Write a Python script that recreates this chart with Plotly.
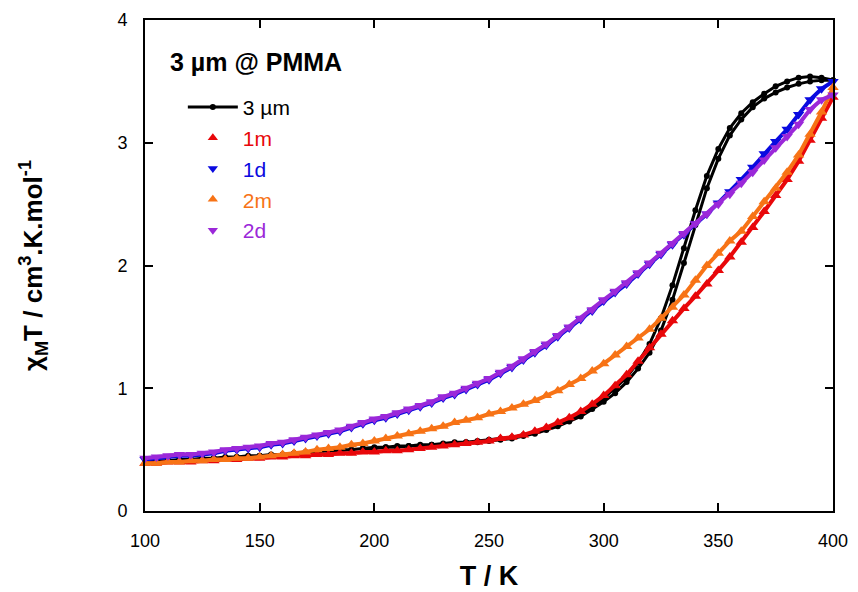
import plotly.graph_objects as go

T = [100, 105, 110, 115, 120, 125, 130, 135, 140, 145, 150, 155, 160, 165, 170, 175,
     180, 185, 190, 195, 200, 205, 210, 215, 220, 225, 230, 235, 240, 245, 250, 255,
     260, 265, 270, 275, 280, 285, 290, 295, 300, 305, 310, 315, 320, 325, 330, 335,
     340, 345, 350, 355, 360, 365, 370, 375, 380, 385, 390, 395, 400]

black_heat = [0.40, 0.40, 0.41, 0.41, 0.42, 0.42, 0.43, 0.43, 0.44, 0.44, 0.45, 0.45, 0.46, 0.47, 0.47, 0.48,
              0.49, 0.49, 0.50, 0.51, 0.51, 0.52, 0.52, 0.53, 0.53, 0.54, 0.54, 0.55, 0.56, 0.56, 0.57, 0.58,
              0.59, 0.61, 0.63, 0.66, 0.69, 0.73, 0.77, 0.83, 0.89, 0.96, 1.05, 1.16, 1.29, 1.47, 1.72, 2.02,
              2.33, 2.63, 2.87, 3.06, 3.19, 3.29, 3.36, 3.41, 3.45, 3.48, 3.50, 3.51, 3.51]

black_cool = [0.40, 0.41, 0.41, 0.42, 0.42, 0.43, 0.43, 0.44, 0.44, 0.45, 0.45, 0.46, 0.46, 0.47, 0.48, 0.48,
              0.49, 0.50, 0.50, 0.51, 0.52, 0.52, 0.53, 0.53, 0.54, 0.54, 0.55, 0.56, 0.56, 0.57, 0.58, 0.59,
              0.60, 0.62, 0.64, 0.67, 0.70, 0.74, 0.79, 0.85, 0.92, 1.00, 1.09, 1.21, 1.36, 1.57, 1.84, 2.14,
              2.45, 2.73, 2.95, 3.12, 3.24, 3.33, 3.40, 3.46, 3.50, 3.53, 3.54, 3.53, 3.51]

red_1m = [0.39, 0.39, 0.40, 0.40, 0.40, 0.41, 0.41, 0.42, 0.42, 0.43, 0.43, 0.44, 0.44, 0.45, 0.45, 0.46,
          0.46, 0.47, 0.47, 0.48, 0.48, 0.49, 0.49, 0.50, 0.51, 0.52, 0.53, 0.54, 0.55, 0.56, 0.57, 0.59,
          0.60, 0.62, 0.65, 0.68, 0.72, 0.76, 0.81, 0.87, 0.94, 1.02, 1.11, 1.22, 1.33, 1.44, 1.55, 1.65,
          1.75, 1.85, 1.96, 2.07, 2.19, 2.31, 2.44, 2.57, 2.70, 2.85, 3.02, 3.20, 3.37]

blue_1d = [0.42, 0.43, 0.44, 0.45, 0.45, 0.46, 0.47, 0.49, 0.50, 0.51, 0.52, 0.54, 0.55, 0.57, 0.59, 0.61,
           0.63, 0.65, 0.68, 0.71, 0.74, 0.76, 0.79, 0.82, 0.85, 0.88, 0.92, 0.95, 0.99, 1.03, 1.07, 1.12,
           1.17, 1.23, 1.29, 1.35, 1.42, 1.49, 1.56, 1.63, 1.71, 1.78, 1.85, 1.93, 2.01, 2.09, 2.17, 2.25,
           2.34, 2.42, 2.51, 2.60, 2.70, 2.80, 2.91, 3.01, 3.11, 3.23, 3.35, 3.44, 3.50]

orange_2m = [0.39, 0.39, 0.40, 0.40, 0.41, 0.41, 0.42, 0.42, 0.43, 0.43, 0.44, 0.45, 0.46, 0.47, 0.48, 0.50,
             0.51, 0.52, 0.54, 0.55, 0.57, 0.59, 0.61, 0.63, 0.65, 0.67, 0.69, 0.72, 0.74, 0.76, 0.79, 0.81,
             0.84, 0.87, 0.90, 0.94, 0.98, 1.03, 1.08, 1.14, 1.20, 1.27, 1.34, 1.41, 1.48, 1.57, 1.66, 1.76,
             1.88, 2.00, 2.10, 2.20, 2.28, 2.40, 2.52, 2.63, 2.76, 2.90, 3.07, 3.25, 3.45]

purple_2d = [0.43, 0.44, 0.45, 0.46, 0.46, 0.47, 0.48, 0.50, 0.51, 0.52, 0.53, 0.55, 0.56, 0.58, 0.60, 0.62,
             0.64, 0.66, 0.69, 0.72, 0.75, 0.77, 0.80, 0.83, 0.86, 0.89, 0.93, 0.96, 1.00, 1.04, 1.08, 1.13,
             1.18, 1.24, 1.30, 1.36, 1.43, 1.50, 1.57, 1.64, 1.72, 1.79, 1.86, 1.94, 2.02, 2.10, 2.18, 2.26,
             2.34, 2.42, 2.50, 2.58, 2.67, 2.76, 2.86, 2.96, 3.05, 3.15, 3.27, 3.35, 3.39]

x_ticks = [100, 150, 200, 250, 300, 350, 400]
y_ticks = [0, 1, 2, 3, 4]

FONT = "Liberation Sans, Arial, sans-serif"


def lab(text, color):
    return f"<span style='color:{color}'>{text}</span>"


fig = go.Figure()

# black hysteresis loop: heating branch then cooling branch
fig.add_trace(go.Scatter(
    x=T + T[::-1], y=black_heat + black_cool[::-1],
    mode="lines+markers", name=lab("3 µm", "black"),
    line=dict(color="black", width=3),
    marker=dict(color="black", size=6, symbol="circle"),
    cliponaxis=False, legendgroup="a"))

series = [
    ("1m", red_1m, "#e8070a", "triangle-up", "b"),
    ("1d", blue_1d, "#0a0ae0", "triangle-down", "c"),
    ("2m", orange_2m, "#f77316", "triangle-up", "d"),
    ("2d", purple_2d, "#9b28d9", "triangle-down", "e"),
]
for name, vals, col, sym, grp in series:
    fig.add_trace(go.Scatter(
        x=T, y=vals, mode="lines+markers", name=lab(name, col),
        line=dict(color=col, width=4),
        marker=dict(color=col, size=10, symbol=sym, line=dict(width=0)),
        cliponaxis=False, legendgroup=grp, showlegend=False))

# marker-only legend entries for the triangle series
for name, vals, col, sym, grp in series:
    fig.add_trace(go.Scatter(
        x=[None], y=[None], mode="markers", name=lab(name, col),
        marker=dict(color=col, size=9, symbol=sym), legendgroup=grp))

fig.add_annotation(
    text="<b>3 µm @ PMMA</b>", xref="paper", yref="paper",
    x=0.033, y=0.9145, xanchor="left", yanchor="middle", showarrow=False,
    font=dict(family=FONT, size=25, color="black"))

axis_common = dict(
    showline=True, linecolor="black", linewidth=2, mirror="ticks",
    ticks="inside", ticklen=8, tickwidth=2, tickcolor="black",
    showgrid=False, zeroline=False, automargin=False,
    tickfont=dict(family=FONT, size=18, color="black"),
)

fig.update_layout(
    width=858, height=592,
    margin=dict(l=145, r=25, t=20, b=81),
    paper_bgcolor="white", plot_bgcolor="white",
    font=dict(family=FONT, color="black"),
    xaxis=dict(range=[100, 400], tickvals=x_ticks, ticklabelstandoff=12,
               title=dict(text="<b>T / K</b>", font=dict(family=FONT, size=27), standoff=17),
               **axis_common),
    yaxis=dict(range=[0, 4], tickvals=y_ticks, ticklabelstandoff=12,
               title=dict(text="<b>χ<sub>M</sub>T / cm<sup>3</sup>.K.mol<sup>-1</sup></b>",
                          font=dict(family=FONT, size=26), standoff=67),
               **axis_common),
    legend=dict(x=0.055, y=0.864, xanchor="left", yanchor="top",
                bgcolor="rgba(0,0,0,0)", font=dict(family=FONT, size=21),
                tracegroupgap=0.5, itemwidth=50),
    showlegend=True,
)

fig.write_html("out.html", config={"displayModeBar": False},
               post_script="document.body.style.margin='0';")
